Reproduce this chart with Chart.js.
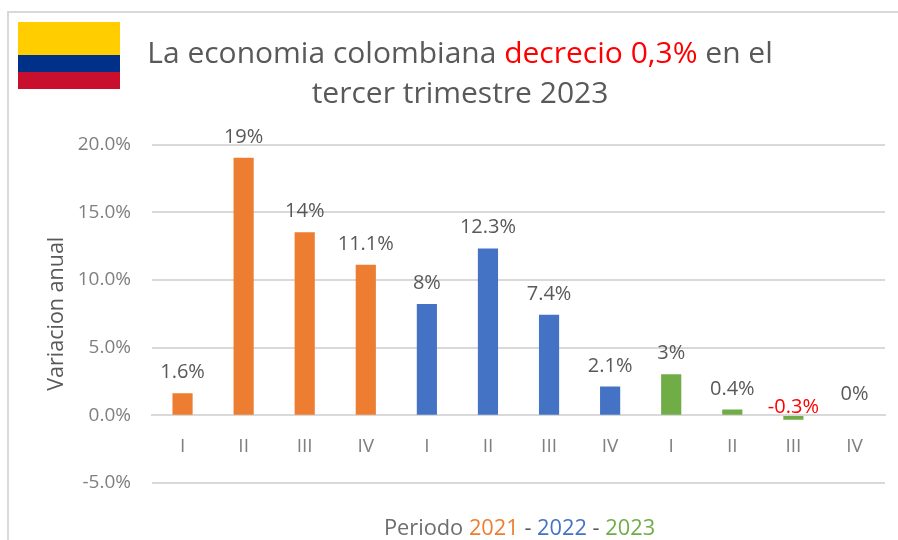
<!DOCTYPE html>
<html><head><meta charset="utf-8">
<script src="https://cdn.jsdelivr.net/npm/chart.js@4/dist/chart.umd.min.js"></script>
<style>html,body{margin:0;padding:0;background:#fff}#w{position:relative;width:898px;height:540px}</style>
</head><body><div id="w"><canvas id="c" width="898" height="540"></canvas></div>
<script>
const categories = ['I','II','III','IV','I','II','III','IV','I','II','III','IV'];
const values = [1.6,19,13.5,11.1,8.2,12.3,7.4,2.1,3,0.4,-0.3,0];
const valueLabels = ['1.6%','19%','14%','11.1%','8%','12.3%','7.4%','2.1%','3%','0.4%','-0.3%','0%'];
const barColors = ['#ED7D31','#ED7D31','#ED7D31','#ED7D31','#4472C4','#4472C4','#4472C4','#4472C4','#70AD47','#70AD47','#70AD47','#70AD47'];
const yTicks = [-5,0,5,10,15,20];
const titleLine1 = [['La economia colombiana ','#595959'],['decrecio 0,3%','#FF0000'],[' en el','#595959']];
const titleLine2 = 'tercer trimestre 2023';
const xTitle = [['Periodo ','#6E6E6E'],['2021','#ED7D31'],[' - ','#595959'],['2022','#4472C4'],[' - ','#595959'],['2023','#70AD47']];
const yTitle = 'Variacion anual';
const F = '"Open Sans"';

function runs(ctx, parts, cx, y){
  const total = parts.reduce((s,p)=>s+ctx.measureText(p[0]).width,0);
  let x = cx-total/2;
  ctx.textAlign='left';
  parts.forEach(p=>{ctx.fillStyle=p[1];ctx.fillText(p[0],x,y);x+=ctx.measureText(p[0]).width;});
}
const decor = {
  id:'decor',
  beforeDraw(chart){
    const c=chart.ctx;c.save();
    c.fillStyle='#D9D9D9';c.fillRect(7,11,2,529);c.fillRect(7,11,891,2);
    c.fillStyle='#FFCD00';c.fillRect(18,22,102,33);
    c.fillStyle='#003087';c.fillRect(18,55,102,17);
    c.fillStyle='#C8102E';c.fillRect(18,72,102,17);
    c.restore();
  },
  afterDraw(chart){
    const c=chart.ctx;c.save();
    c.textBaseline='middle';
    c.font='30px '+F;
    runs(c,titleLine1,460,54);
    c.fillStyle='#595959';c.textAlign='center';c.fillText(titleLine2,460,94);
    c.font='21.8px '+F;
    runs(c,xTitle,519.5,528.5);
    const meta=chart.getDatasetMeta(0), zero=chart.scales.y.getPixelForValue(0);
    c.font='20px '+F;c.textAlign='center';
    meta.data.forEach((b,i)=>{
      const neg=values[i]<0;
      c.fillStyle=neg?'#FF0000':'#595959';
      c.fillText(valueLabels[i],b.x,neg?zero-8:b.y-21);
    });
    c.restore();
  }
};
new Chart(document.getElementById('c'),{
  type:'bar',
  data:{labels:categories,datasets:[{data:values,
    backgroundColor:ctx=>values[ctx.dataIndex]===0?'transparent':barColors[ctx.dataIndex],
    barThickness:19.5,borderWidth:0}]},
  plugins:[decor],
  options:{
    responsive:false,animation:false,
    layout:{padding:{left:44,top:144.5,right:13,bottom:57}},
    plugins:{legend:{display:false},tooltip:{enabled:false},title:{display:false}},
    scales:{
      x:{position:{y:0},
        grid:{display:false},border:{color:'#D9D9D9',width:2},
        ticks:{color:'#7F7F7F',font:{family:F,size:19},padding:12,maxRotation:0,autoSkip:false}},
      y:{min:-5,max:20,
        afterBuildTicks(s){s.ticks=yTicks.map(v=>({value:v}));},
        afterFit(s){s.width=108;},
        grid:{color:'#D9D9D9',lineWidth:2,drawTicks:false},border:{display:false},
        title:{display:true,text:yTitle,color:'#595959',font:{family:F,size:21.5},padding:0},
        ticks:{color:'#7F7F7F',font:{family:F,size:19},padding:21,callback:v=>v.toFixed(1)+'%'}}
    }
  }
});
</script></body></html>
